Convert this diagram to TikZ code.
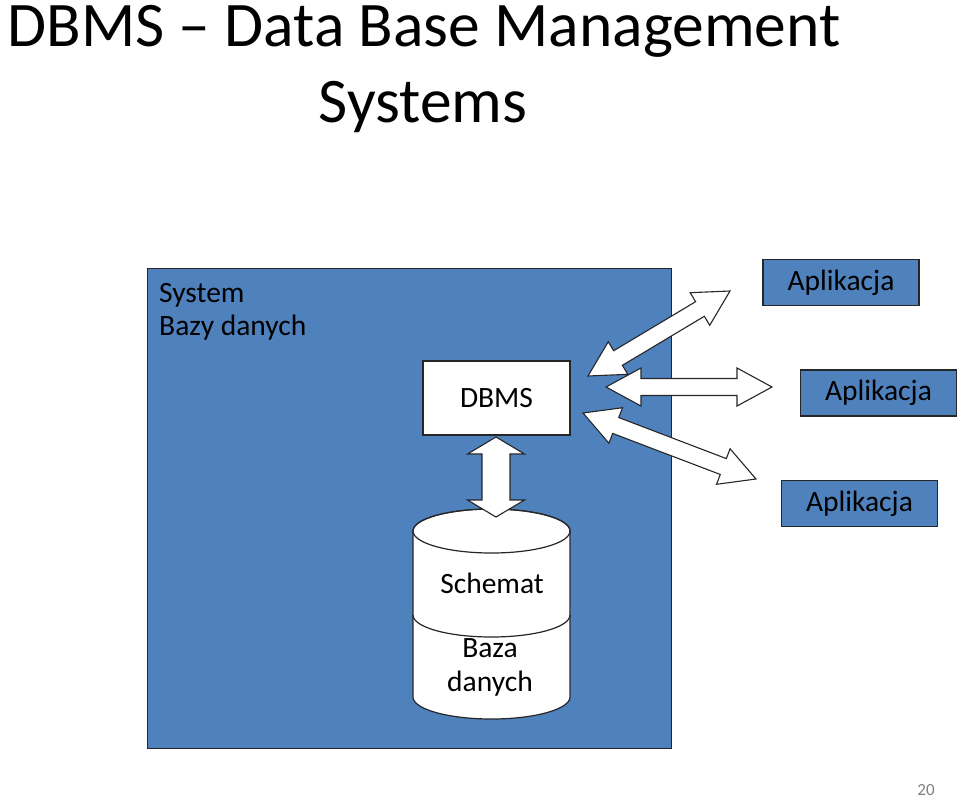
\documentclass[tikz,border=0pt]{standalone}
\usepackage{fontspec}
\setmainfont{Carlito}
\usetikzlibrary{calc}
\definecolor{offblue}{HTML}{4F81BD}
\newcommand\dblarrow[5]{%
  \draw[bigarrow] (#1) -- ($(#1)!#5!(#2)!#4!90:(#2)$) -- ($(#1)!#5!(#2)!#3!90:(#2)$)
    -- ($(#2)!#5!(#1)!#3!-90:(#1)$) -- ($(#2)!#5!(#1)!#4!-90:(#1)$) -- (#2)
    -- ($(#2)!#5!(#1)!#4!90:(#1)$) -- ($(#2)!#5!(#1)!#3!90:(#1)$)
    -- ($(#1)!#5!(#2)!#3!-90:(#2)$) -- ($(#1)!#5!(#2)!#4!-90:(#2)$) -- cycle;}
\begin{document}
\begin{tikzpicture}[x=1pt,y=-1pt,
  titletext/.style={font=\fontsize{63.5}{70}\selectfont, inner sep=0pt, text height=43pt, text depth=13pt},
  bodytext/.style={font=\fontsize{29.5}{34}\selectfont, inner sep=0pt},
  bluebox/.style={draw=black!85, line width=1.3pt, fill=offblue},
  appbox/.style={bluebox, bodytext, minimum height=46pt, minimum width=156pt},
  whitebox/.style={draw=black!85, line width=1.2pt, fill=white, bodytext},
  bigarrow/.style={draw=black!85, line width=1.1pt, fill=white, line join=miter}]
\useasboundingbox (0,0) rectangle (960,798);

% title
\node[titletext, anchor=base] (t1) at (424,46) {DBMS -- Data Base Management};
\node[titletext, anchor=base] (t2) at (423,122) {Systems};

% system box
\node[bluebox, anchor=north west, minimum width=524pt, minimum height=480pt, inner sep=0pt] (sys) at (147,268) {};
\node[bodytext, anchor=base west] (sys1) at (159,302) {System};
\node[bodytext, anchor=base west] (sys2) at (159,335) {Bazy danych};

% DBMS box
\node[whitebox, minimum width=147pt, minimum height=74pt, inner sep=0pt] (dbms) at (496.5,398) {DBMS};

% cylinder
\filldraw[draw=black!85, line width=1.2pt, fill=white]
  (413,531) -- (413,697) arc[start angle=180, end angle=360, x radius=78.5pt, y radius=22pt]
  -- (570,531) arc[start angle=0, end angle=180, x radius=78.5pt, y radius=22pt] -- cycle;
\draw[black!85, line width=1.2pt] (491.5,531) ellipse[x radius=78.5pt, y radius=22pt];
\draw[black!85, line width=1.2pt] (413,615) arc[start angle=180, end angle=360, x radius=78.5pt, y radius=22pt];
\node[bodytext] (schemat) at (492,583) {Schemat};
\node[bodytext, align=center] (baza) at (490,667) {Baza\\danych};

% applications
\node[appbox] (app1) at (841,282.5) {Aplikacja};
\node[appbox] (app2) at (878.5,393) {Aplikacja};
\node[appbox] (app3) at (859.5,503.5) {Aplikacja};

% arrows
\coordinate (v1) at (496,437);
\coordinate (v2) at (496,517);
\dblarrow{v1}{v2}{14pt}{28.5pt}{17pt}

\coordinate (a1s) at (588,376);
\coordinate (a1e) at (730,291);
\dblarrow{a1s}{a1e}{8.5pt}{19pt}{35pt}

\coordinate (a2s) at (606,387);
\coordinate (a2e) at (772,387);
\dblarrow{a2s}{a2e}{8.5pt}{19pt}{35pt}

\coordinate (a3s) at (583,413);
\coordinate (a3e) at (756,479);
\dblarrow{a3s}{a3e}{8.5pt}{19pt}{35pt}

% page number
\node[font=\fontsize{17}{20}\selectfont, text=black!50, inner sep=0pt, anchor=base] (pg) at (926,795) {20};
\end{tikzpicture}
\end{document}
